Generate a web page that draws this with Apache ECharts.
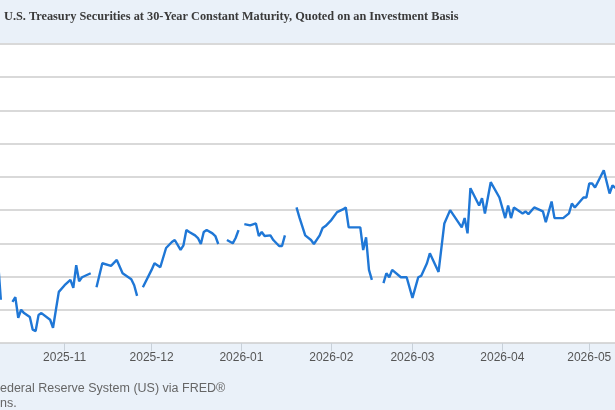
<!DOCTYPE html>
<html><head><meta charset="utf-8">
<script src="https://cdn.jsdelivr.net/npm/echarts@6/dist/echarts.min.js"></script>
<style>html,body{margin:0;padding:0;background:#fff}#c{width:615px;height:410px}</style>
</head><body><div id="c"></div>
<script>
const title = 'U.S. Treasury Securities at 30-Year Constant Maturity, Quoted on an Investment Basis';
const source1 = 'ederal Reserve System (US) via FRED®';
const source2 = 'ns.';
const dates = ['2025-10-09','2025-10-10',null,'2025-10-14','2025-10-15','2025-10-16','2025-10-17','2025-10-18','2025-10-20','2025-10-21','2025-10-22','2025-10-23','2025-10-24','2025-10-27','2025-10-28','2025-10-29','2025-10-30','2025-11-01','2025-11-03','2025-11-04','2025-11-05','2025-11-06','2025-11-07','2025-11-10',null,
'2025-11-12','2025-11-14','2025-11-17','2025-11-19','2025-11-21','2025-11-24','2025-11-25','2025-11-26',null,
'2025-11-28','2025-12-01','2025-12-02','2025-12-03','2025-12-04','2025-12-06','2025-12-08','2025-12-09','2025-12-11','2025-12-12','2025-12-13','2025-12-14','2025-12-16','2025-12-17','2025-12-18','2025-12-19','2025-12-20','2025-12-22','2025-12-23','2025-12-24',null,
'2025-12-27','2025-12-29','2025-12-30','2025-12-31',null,
'2026-01-02','2026-01-04','2026-01-06','2026-01-07','2026-01-08','2026-01-09','2026-01-11','2026-01-12','2026-01-14','2026-01-15','2026-01-16',null,
'2026-01-20','2026-01-21','2026-01-23','2026-01-25','2026-01-26','2026-01-28','2026-01-29','2026-01-30','2026-02-01','2026-02-03','2026-02-05','2026-02-06','2026-02-07','2026-02-11','2026-02-12','2026-02-13','2026-02-14','2026-02-15',null,
'2026-02-19','2026-02-20','2026-02-21','2026-02-22','2026-02-25','2026-02-27','2026-03-01','2026-03-03','2026-03-04','2026-03-06','2026-03-07','2026-03-10','2026-03-12','2026-03-14','2026-03-18','2026-03-19','2026-03-20','2026-03-21','2026-03-24','2026-03-25','2026-03-26','2026-03-28','2026-03-31','2026-04-02','2026-04-03','2026-04-04','2026-04-05','2026-04-08','2026-04-09','2026-04-10','2026-04-12','2026-04-15','2026-04-16','2026-04-18','2026-04-19','2026-04-22','2026-04-24','2026-04-25','2026-04-26','2026-04-29','2026-04-30','2026-05-01','2026-05-02','2026-05-03','2026-05-06','2026-05-08','2026-05-09','2026-05-11'];
const gapDates = ['2025-10-13','2025-11-11','2025-11-27','2025-12-26','2026-01-01','2026-01-19','2026-02-16'];
const yields = [4.625,4.565,null,4.562,4.569,4.538,4.550,4.545,4.539,4.520,4.518,4.542,4.545,4.535,4.523,4.550,4.577,4.587,4.595,4.583,4.617,4.593,4.599,4.605,null,
4.584,4.620,4.616,4.625,4.605,4.596,4.587,4.571,null,
4.584,4.610,4.620,4.617,4.614,4.643,4.652,4.655,4.640,4.647,4.670,4.667,4.662,4.658,4.649,4.667,4.670,4.665,4.661,4.649,null,
4.655,4.650,4.658,4.670,null,
4.679,4.677,4.680,4.661,4.667,4.661,4.662,4.655,4.646,4.646,4.662,null,
4.704,4.689,4.662,4.655,4.649,4.662,4.673,4.676,4.685,4.697,4.701,4.704,4.674,4.674,4.640,4.659,4.610,4.595,null,
4.590,4.605,4.599,4.610,4.599,4.599,4.568,4.599,4.601,4.620,4.635,4.607,4.680,4.700,4.674,4.688,4.665,4.733,4.707,4.718,4.695,4.742,4.719,4.688,4.707,4.688,4.704,4.695,4.698,4.694,4.704,4.698,4.682,4.713,4.688,4.688,4.695,4.710,4.704,4.719,4.719,4.740,4.740,4.734,4.760,4.725,4.737,4.730];
let gi = 0;
const data = dates.map((d, i) => [d === null ? gapDates[gi++] : d, yields[i]]);
const chart = echarts.init(document.getElementById('c'), null, {renderer: 'canvas'});
chart.setOption({
  animation: false,
  graphic: [
    {type: 'rect', z: -10, shape: {x: 0, y: 0, width: 615, height: 43}, style: {fill: '#eaf1f9'}},
    {type: 'rect', z: -10, shape: {x: 0, y: 343, width: 615, height: 67}, style: {fill: '#eaf1f9'}},
    {type: 'text', left: 4, top: 11, style: {text: title, font: 'bold 12.3px "Liberation Serif"', fill: '#3a3a3a'}},
    {type: 'text', left: 0, top: 382, style: {text: source1, font: '12.5px "Liberation Sans"', fill: '#666'}},
    {type: 'text', left: 0, top: 397, style: {text: source2, font: '12.5px "Liberation Sans"', fill: '#666'}}
  ],
  grid: {left: 0, right: 0, top: 44, bottom: 67},
  xAxis: {
    type: 'time',
    min: new Date('2025-10-09T17:00:00').getTime(),
    max: new Date('2026-05-09T21:00:00').getTime(),
    splitNumber: 7,
    axisLine: {show: false},
    axisTick: {show: true, length: 8, lineStyle: {color: '#c8d0d8'}},
    splitLine: {show: false},
    axisLabel: {
      color: '#555', fontSize: 12, fontFamily: 'Liberation Sans', margin: 9,
      formatter: v => { const d = new Date(v); return d.getFullYear() + '-' + String(d.getMonth() + 1).padStart(2, '0'); }
    }
  },
  yAxis: {
    type: 'value', min: 4.50, max: 4.95, interval: 0.05,
    axisLabel: {show: false}, axisLine: {show: false}, axisTick: {show: false},
    splitLine: {lineStyle: {color: '#cccccc', width: 1.5}}
  },
  series: [{
    type: 'line', data: data, showSymbol: false, connectNulls: false,
    lineStyle: {color: '#1f77d6', width: 2.4}
  }]
});
</script></body></html>
